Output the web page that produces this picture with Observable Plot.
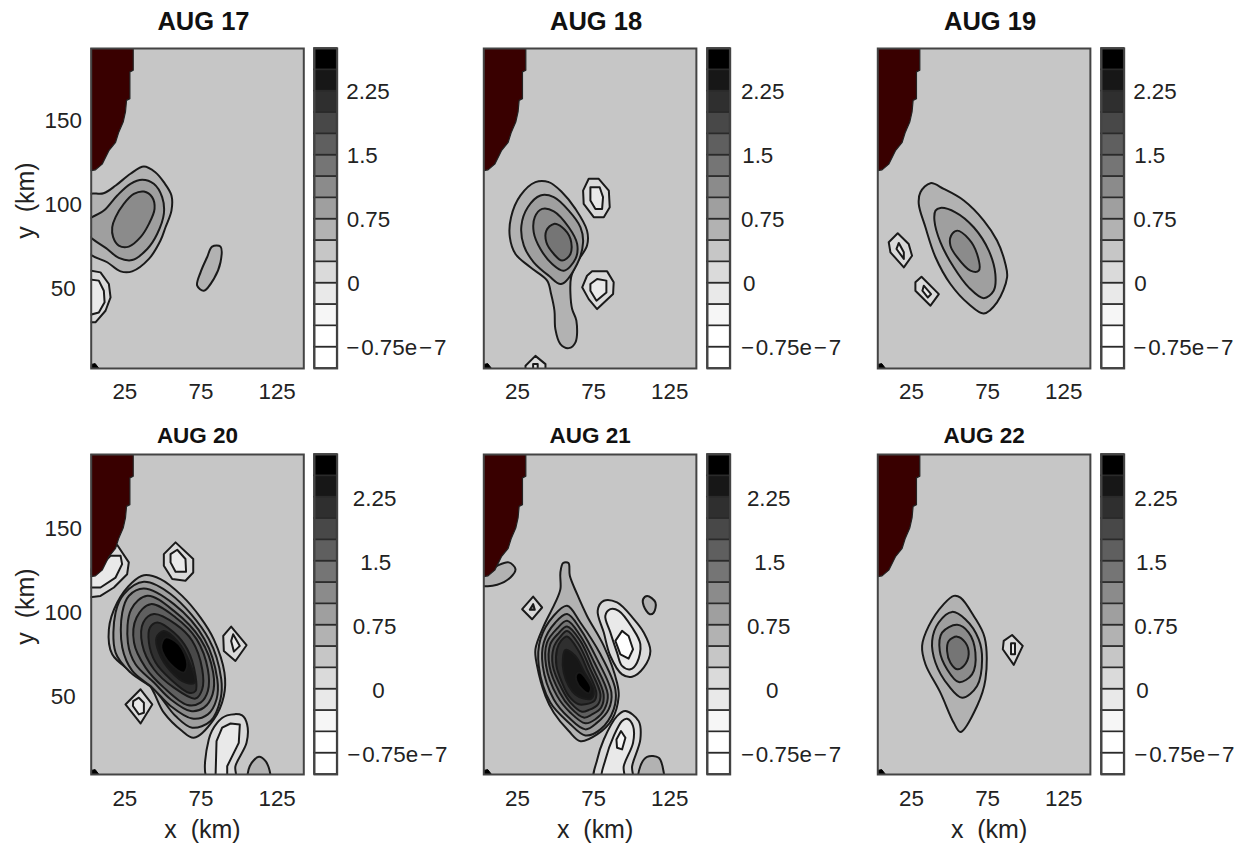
<!DOCTYPE html>
<html><head><meta charset="utf-8">
<script src="https://cdn.jsdelivr.net/npm/d3@7"></script>
<script src="https://cdn.jsdelivr.net/npm/@observablehq/plot@0.6"></script>
<style>
html,body{margin:0;padding:0;background:#fff;}
#chart{position:relative;width:1241px;height:846px;overflow:hidden;font-family:"Liberation Sans",sans-serif;}
#chart svg{position:absolute;}
</style></head><body><div id="chart"></div>
<script>
// Colour bar levels (×1e-7) and grey tones: band i spans levels[i]..levels[i+1]
const levels = [-1,-0.75,-0.5,-0.25,0,0.25,0.5,0.75,1,1.25,1.5,1.75,2,2.25,2.5,2.75];
const tones = ["#ffffff","#ffffff","#f6f6f6","#e9e9e9","#dadada","#c6c6c6","#b2b2b2","#9f9f9f","#8b8b8b","#757575","#5f5f5f","#484848","#2f2f2f","#171717","#000000"];
const barTicks = [-0.75,0,0.75,1.5,2.25];
const barLabels = ["\u2212\u200a0.75e\u200a\u2212\u200a7","0","0.75","1.5","2.25"];
const xTicks = [25,75,125];
const yTicks = [50,100,150];
const titles = ["AUG 17","AUG 18","AUG 19","AUG 20","AUG 21","AUG 22"];

const coast = [[0,193],[30.5,193],[30.5,179.8],[28.3,178.8],[28.3,162.9],[26.1,161.9],[25.4,155],[23.9,149],[21,143],[18.9,137],[14.5,132],[10.1,124],[5.7,120.6],[2.9,120.2],[0,120.2]];
const corner = [[2.9,2.6],[8,2.6],[5.5,5.5],[2.9,5]];

// Each contour: [band, [[x km, y km], ...]], painted in order
const aug17 = [
[6,[[0,105.5],[11,106.7],[19,111.3],[28.7,118.3],[37.5,122.6],[45,119.2],[50.6,113.3],[55.6,105.4],[55.6,96.4],[51.7,86.5],[48.4,78.6],[40.8,67.7],[29.8,60.3],[22.2,60.3],[13.4,65.7],[0,72.5]]],
[7,[[0,90],[11.2,96.4],[20,105.4],[28.7,112.3],[36.4,114.7],[44,112.3],[49.5,104.4],[50.6,94.4],[46.2,82.5],[39.7,73.6],[29.8,67],[21,68.3],[13.4,73.6],[0,83]]],
[8,[[16.7,86.5],[18.9,92.5],[24.3,100.4],[30.9,106.3],[37.5,107.7],[42.9,104.4],[44.5,97.4],[40.8,88.5],[35.3,80.6],[27.6,75],[21,75.6],[17.3,80.6]]],
[6,[[82.3,75],[87.8,75],[87.8,65.7],[83.4,55.8],[76.9,48.8],[72.5,51.8],[74.7,59.7],[79,68.7]]],
[4,[[0,61.1],[9,59.7],[14.5,52.8],[15.6,44.8],[12.3,36.9],[5.7,30],[0,30]]],
[3,[[0,55.8],[7.9,54.8],[11.2,48.8],[11.7,41.9],[7.9,35.9],[0,33.9]]]
];
const aug18 = [
[6,[[36.8,113.3],[45.6,113.3],[54.3,107.3],[63.1,97.4],[70.7,84.5],[70.7,75.6],[64.2,65.7],[60.2,56.7],[59.8,46.8],[60.9,37.9],[63.7,31],[63.1,18.1],[58.7,14.7],[53.2,17.1],[49.9,26],[49.3,36.9],[47.1,46.8],[44.5,54.8],[33.5,62.7],[23.7,70.6],[20,80.6],[20.8,92.5],[27,105.4]]],
[7,[[40.1,105.4],[48.9,104.4],[58.7,96.4],[66.4,86.5],[68.1,77.6],[64.2,64.7],[53.7,52.8],[45.6,57.7],[35.7,65.7],[29.2,75.6],[27.6,87.5],[31.8,98.4]]],
[8,[[41.2,97.4],[48.9,96],[58.7,86.5],[64.2,76.6],[63.1,67.7],[55.4,60.7],[47.8,64.7],[40.1,73.6],[35.7,83.5],[36.4,92.5]]],
[9,[[48.9,88.5],[54.3,86.5],[59.8,79.6],[59.8,70.6],[54.3,66.7],[48.9,70.6],[44,77.6],[44,84.5]]],
[4,[[71.8,115.3],[78.4,115.3],[85,108.3],[85.6,98.4],[81.7,92.5],[75.1,92.5],[68.5,100.4],[68.1,108.3]]],
[3,[[72.9,110.3],[79,110.3],[81.2,104.4],[80.6,97.4],[76.2,97.4],[72.9,102.4]]],
[4,[[74,60.3],[83.9,60.3],[88.2,53.8],[87.8,46.8],[77.3,37.9],[71.8,43.8],[67.5,50.8],[70.7,57.7]]],
[3,[[77.3,55.8],[83.4,54.8],[83.4,47.8],[76.9,42.9],[72.9,48.8],[72.9,52.8]]],
[4,[[36.8,10.1],[43.4,5.2],[43.4,1.2],[30.3,1.2],[30.3,4.2]]],
[3,[[35.3,5.2],[38.3,5.2],[38.3,1.2],[35.3,1.2]]]
];
const aug19 = [
[6,[[37.5,112.7],[46.2,109.3],[59.4,102.4],[72.5,90.5],[81.2,78.6],[86.7,64.7],[87.8,56.7],[81.2,41.9],[72.5,35.3],[62.6,40.9],[50.6,52.8],[40.8,68.7],[34.2,86.5],[29.8,100.4],[30.9,107.3]]],
[7,[[44,98],[53.9,95.4],[65.9,86.5],[75.8,72.6],[80.1,58.7],[79,48.8],[72.5,44.4],[62.6,50.8],[52.8,62.7],[44,77.6],[40.1,90.5],[40.8,96.4]]],
[8,[[55,84.5],[62.6,79.6],[68.1,70.6],[69.2,60.7],[63.7,60.7],[55,68.7],[50.6,75.6],[51,81.5]]],
[4,[[16,82.9],[23.2,76.6],[25.4,69.6],[20,62.7],[11.2,71.6],[10.1,77.6]]],
[3,[[16.7,77.2],[20,71.6],[20,67.7],[15.2,73.6]]],
[4,[[31.6,57.1],[43,46.8],[37.5,39.9],[27.6,48.8],[27.6,53.8]]],
[3,[[33.1,51.8],[37.9,46.8],[35.7,44.8],[32.2,48.8]]]
];
const aug20 = [
[4,[[0.3,107.7],[9,108.7],[17.8,113.7],[26.5,121.6],[27.6,128.6],[20,138.9],[9,134.5],[0.3,120.6]]],
[3,[[0.3,113.7],[9,113.7],[18.9,119.6],[23.2,127.6],[22.2,132.5],[15.6,132.5],[6.8,124.6],[0.3,120.6]]],
[4,[[58.3,140.5],[69.9,130.6],[69.9,122.6],[64.8,117.7],[56.1,118.7],[50.6,126.6],[50.6,133.5]]],
[3,[[59.4,136.1],[64.8,130.6],[65.2,123],[58.3,123],[55,128.6],[55,133.5]]],
[6,[[37.5,121],[48.4,118.7],[62.6,108.7],[74.7,95.8],[83.4,82.9],[90.4,63.1],[90,49.2],[83.4,35.3],[70.3,24.4],[62.6,28.4],[50.6,39.3],[40.8,56.2],[28.7,64.1],[16.7,74],[14.5,88.9],[20,104.8],[29.8,116.7]]],
[7,[[37.5,117.1],[55,109.8],[80.2,83],[88.3,59.2],[87.8,47.3],[81.3,34.4],[69.2,30.4],[58.3,37.3],[44.1,53.2],[28.8,63.1],[18.9,75],[18.9,98.8],[24.4,109.8]]],
[8,[[37.5,113.1],[57.2,103.8],[77.3,83],[85.7,59.2],[85.2,47.3],[79.5,38.3],[69.2,35.8],[55,43.3],[43,54.2],[29.9,64.1],[23.3,78],[23.3,98.8],[27.7,108.8]]],
[9,[[39.7,108.8],[57.2,99.8],[74.7,83],[83,63.1],[82.6,50.2],[76.9,42.3],[68.2,40.3],[55,47.3],[44.1,57.2],[32,68.1],[27,81],[29.2,100.8]]],
[10,[[41.9,103.8],[58.3,95.9],[72.1,83],[79.5,65.1],[79.5,52.2],[74.7,45.3],[66,43.9],[50.6,54.2],[38.6,66.1],[31,81],[32.7,95.9]]],
[11,[[44.1,97.9],[58.3,91.9],[69.2,82],[75.8,65.1],[75.8,53.2],[71.4,47.7],[57.2,54.2],[44.1,65.1],[36.4,80],[37.1,92.9]]],
[12,[[46.3,92.9],[57.2,86.9],[66,77],[71.4,61.2],[71.4,52.2],[67.1,51.2],[55,59.2],[45.2,69.1],[40.8,81],[41.5,89.9]]],
[13,[[50.6,87.9],[59.4,82],[67.1,70.1],[70.8,57.2],[64.9,57.2],[55,64.1],[47.4,75],[45.8,84]]],
[14,[[51.7,84],[60.5,80],[66,68.1],[63.8,63.1],[55,68.1],[48.9,78]]],
[4,[[94.8,90.5],[104.9,79.4],[97.6,70],[90,76],[89.6,84.9]]],
[3,[[96.1,85.9],[100.5,79],[96.6,75.6],[94.8,81.9]]],
[4,[[35.3,53.2],[43,44.2],[35.3,32.9],[25.4,44.2]]],
[3,[[34.2,48.2],[37.5,45.2],[37.5,39.3],[34.2,38.3],[30.3,43.3],[30.5,46.2]]],
[4,[[92.2,37.7],[102,37.7],[105.3,32.3],[104.9,21.4],[97.6,7.5],[97.6,-0.4],[79.5,-0.4],[80.1,23.4],[85.6,33.3]]],
[3,[[94.4,32.9],[100.5,32.3],[99.8,21.4],[92.2,7.5],[92.2,-0.4],[84.5,-0.4],[85.2,22.4],[88.9,30.4]]],
[6,[[113,13.1],[117.4,10.5],[120.6,2.6],[120.6,-0.4],[106.4,-0.4],[107,7.5]]]
];
const aug21 = [
[6,[[11.7,126.6],[19.3,128.6],[23.7,124.6],[20.4,119.6],[11.7,115.3],[0.7,115.3],[0.7,120.6]]],
[4,[[35.3,108.3],[41.2,101.8],[34.6,94.8],[28.1,100.8]]],
[8,[[35.3,103.8],[36.4,100.4],[33.1,100.4]]],
[6,[[110.2,108.7],[115.6,104.8],[114.5,98.8],[111.9,97.8],[107.9,102.8],[107.5,106.7]]],
[4,[[81.7,105.8],[90.4,104.8],[101.4,94.9],[107.9,87],[112.3,76],[107.9,66.1],[100.3,60.7],[93.7,62.1],[86,73],[81.7,86.9],[77.7,100]]],
[3,[[86,100.8],[91.5,99.8],[100.3,89.9],[105.7,80],[103.5,69],[99.2,65.1],[93.7,67.1],[90.4,75],[86,87],[82.7,96.8]]],
[1,[[93.7,87.9],[98,84.9],[100.9,77],[98,71.4],[92.6,74],[89.3,82]]],
[4,[[95.9,40.3],[104.6,34.3],[105.7,23.4],[100.3,7.5],[100.3,-0.4],[75.6,-0.4],[77.4,11.5],[81.7,23.4],[90.4,37.3]]],
[3,[[97,35.7],[100.9,31.4],[100.9,21.4],[94.8,7.5],[94.8,-0.4],[80.6,-0.4],[82.8,11.5],[88.2,25.4],[93.7,34.4]]],
[2,[[93,28.4],[95.9,24.4],[93.7,17.5],[90.4,18.5],[90,23.4]]],
[6,[[110.1,13.1],[117.8,12.5],[121.1,3.6],[121.1,-0.4],[105.1,-0.4],[105.7,7.5]]],
[6,[[55,128.2],[58.5,128.2],[59.4,120.6],[64.2,109.7],[70.7,96.8],[81.7,79],[90.4,57.1],[91.5,49.2],[87.1,35.3],[77.3,26.4],[66.4,22.4],[58.7,28.4],[48.9,39.3],[43.4,49.2],[37.9,67.1],[36.8,77],[42.3,90.9],[49.9,104.8],[53.2,112.7],[53.2,122.6]]],
[7,[[57.6,102.8],[66.3,92.9],[79.5,74],[89.3,53.2],[88.2,41.3],[79.5,29.4],[69.6,25.8],[58.7,33.4],[46.6,45.3],[39,67.1],[40.1,83],[48.8,96.9]]],
[8,[[57.6,97.9],[66.3,89],[77.3,71.1],[86.7,51.2],[84.9,41.3],[77.3,33.4],[69.6,29.4],[58.7,36.4],[48.8,47.3],[41.6,67.1],[42.3,81],[49.9,92.9]]],
[9,[[57.6,93.9],[66.3,85],[75.5,69.1],[84.3,50.2],[82.1,41.3],[76.2,35.4],[69.6,33],[59.8,39.3],[51,49.3],[43.8,67.1],[44.4,81],[51,89.3]]],
[10,[[57.6,90.5],[66.3,82],[74,67.1],[81.6,50.2],[79.9,42.3],[74,38.3],[68.5,36.4],[59.8,42.3],[52.8,51.2],[46,67.1],[46.6,80],[52.1,86.6]]],
[11,[[57.6,87.9],[65.2,80],[72.4,66.1],[79.5,50.2],[77.9,44.3],[71.8,40.9],[67.4,39.9],[59.8,45.3],[54.3,53.2],[48.2,67.1],[48.8,78],[52.8,84]]],
[12,[[57.6,84.6],[65.2,76],[70.7,65.1],[76.8,51.2],[75.5,46.3],[69.6,44.3],[65.2,44.3],[58.7,49.3],[54.3,57.2],[50.6,67.1],[51,77],[53.6,82]]],
[13,[[56.5,76.6],[63,73],[68.5,64.1],[75.1,52.2],[73.5,47.7],[68.5,47.7],[63,50.2],[58.7,55.2],[55.4,63.1],[54.9,72.1]]],
[14,[[66.3,63.1],[69.6,60.2],[73.3,54.2],[71.8,50.8],[67.4,53.2],[63.7,58.2],[63.7,62.1]]]
];
const aug22 = [
[6,[[52.8,108.7],[57.2,107.7],[65.9,96.8],[73.1,83.9],[73.6,59.1],[68.1,43.3],[57.2,27.8],[52.8,33.3],[44,51.2],[34.2,68.1],[32,79],[36.4,90.9],[46.2,103.8]]],
[7,[[51.7,99.2],[60.4,94.8],[69.2,82.9],[71.4,71],[68.1,55.2],[58.3,48.2],[49.5,55.2],[40.8,69],[38.6,82],[42.9,92.9]]],
[8,[[55,91.5],[62.6,86.9],[67,75],[64.8,62.1],[56.1,57.5],[48.4,65.1],[43.6,76],[45.1,86.9]]],
[9,[[55,84.5],[60.4,81],[62.6,74],[59.4,67.1],[55,65.1],[50.6,69],[48.4,76],[49.5,81.9]]],
[4,[[91.1,85.5],[98.1,79],[92.2,67.7],[85,77],[85.6,82]]],
[3,[[90.4,80.6],[93,80.6],[93,74],[90.4,74]]]
];
const days = [aug17,aug18,aug19,aug20,aug21,aug22];

const colorScale = {type:"ordinal", domain:d3.range(tones.length), range:tones};
const root = document.getElementById("chart");
const font = '"Liberation Sans",sans-serif';

const panelX = [90.7,483.3,877.3];
const panelTop = [48,454.3];
const panelW = 212.6, panelH = 320;
const barX = [314,707.3,1100.7];
const barW = 22.7;
// per-panel left offset of each colour-bar label, in label order
const labelDx = [[9,10,9.5,9.5,9],[10.7,12.7,10.7,12,10.7],[9,10,9,10,9],[10,35,15.6,23,15.6],[10.7,35.7,16.7,24,16.7],[10,12,10,11.7,10]];

days.forEach((rings,i)=>{
  const row = i<3?0:1, col = i%3;
  const mL = panelX[col], mT = 48, mB = 70;
  const isAngular = (band,pts)=>pts.length<=4 || (band<=4 && pts.length<=8);
  const rows = rings.flatMap(([band,pts],k)=>pts.map(([x,y])=>({x,y,band,ring:k,angular:isAngular(band,pts)})));
  const marks = [
    Plot.frame({fill:tones[5],stroke:null}),
    Plot.line(rows.filter(d=>!d.angular),{x:"x",y:"y",z:"ring",fill:"band",stroke:"#1a1a1a",strokeWidth:2,curve:"catmull-rom-closed",clip:true}),
    Plot.line(rows.filter(d=>d.angular),{x:"x",y:"y",z:"ring",fill:"band",stroke:"#1a1a1a",strokeWidth:2,curve:"linear-closed",clip:true}),
    Plot.line(coast,{x:"0",y:"1",fill:"#390000",stroke:"#222",strokeWidth:1.2,curve:"linear-closed",clip:true}),
    Plot.line(corner,{x:"0",y:"1",fill:"#000",stroke:"#000",strokeWidth:1,curve:"linear-closed",clip:true}),
    Plot.frame({stroke:"#444",strokeWidth:2}),
    Plot.axisX({ticks:xTicks,tickSize:0,tickPadding:row?16:14.5,label:null,fontSize:22.4,fill:"#222",anchor:"bottom"}),
    Plot.text([titles[i]],{text:d=>d,frameAnchor:"top",lineAnchor:"middle",dy:row?-19:-27,dx:row?0:6,fontSize:row?22.5:25.5,fontWeight:"bold",fill:"#111",fontFamily:font})
  ];
  if(col===0){
    marks.push(Plot.axisY({ticks:yTicks,tickSize:0,tickPadding:28,textAnchor:"middle",label:null,fontSize:22.4,fill:"#222",anchor:"left",dy:row?2:0.5}));
    marks.push(Plot.text(["y\u00a0\u00a0(km)"],{text:d=>d,frameAnchor:"left",textAnchor:"middle",lineAnchor:"middle",dx:-65.7,dy:-8,rotate:-90,fontSize:25,fill:"#222",fontFamily:font}));
  }
  if(row===1){
    marks.push(Plot.text(["x\u00a0\u00a0(km)"],{text:d=>d,frameAnchor:"bottom",lineAnchor:"middle",dy:56,dx:5,fontSize:25,fill:"#222",fontFamily:font}));
  }
  const svg = Plot.plot({
    width:mL+panelW+2, height:mT+panelH+mB,
    marginLeft:mL, marginRight:2, marginTop:mT, marginBottom:mB,
    x:{domain:[2.9,142.5],axis:null},
    y:{domain:[2.6,192.7],axis:null},
    color:colorScale,
    style:{background:"transparent",fontFamily:font,overflow:"visible"},
    marks
  });
  svg.style.left = "0px";
  svg.style.top = (panelTop[row]-mT)+"px";
  svg.style.maxWidth = "none";
  root.appendChild(svg);

  // colour bar
  const bands = tones.map((_,b)=>({b,lo:levels[b],hi:levels[b+1]}));
  const bar = Plot.plot({
    width:barW+2+110, height:mT+panelH+mB,
    marginLeft:1, marginRight:111, marginTop:mT, marginBottom:mB,
    x:{domain:[0,1],axis:null},
    y:{domain:[levels[0],levels[levels.length-1]],axis:null},
    color:colorScale,
    style:{background:"transparent",fontFamily:font,overflow:"visible"},
    marks:[
      Plot.rect(bands,{x1:()=>0,x2:()=>1,y1:"lo",y2:"hi",fill:"b",stroke:"#2a2a2a",strokeWidth:1.6}),
      Plot.frame({stroke:"#444",strokeWidth:2}),
      ...barTicks.map((t,k)=>Plot.text([t],{x:()=>1,y:d=>d,text:()=>barLabels[k],textAnchor:"start",dx:labelDx[i][k],dy:row?2:1,fontSize:22.4,fill:"#222",fontFamily:font}))
    ]
  });
  bar.style.left = (barX[col]-1)+"px";
  bar.style.top = (panelTop[row]-mT)+"px";
  bar.style.maxWidth = "none";
  root.appendChild(bar);
});
</script></body></html>
